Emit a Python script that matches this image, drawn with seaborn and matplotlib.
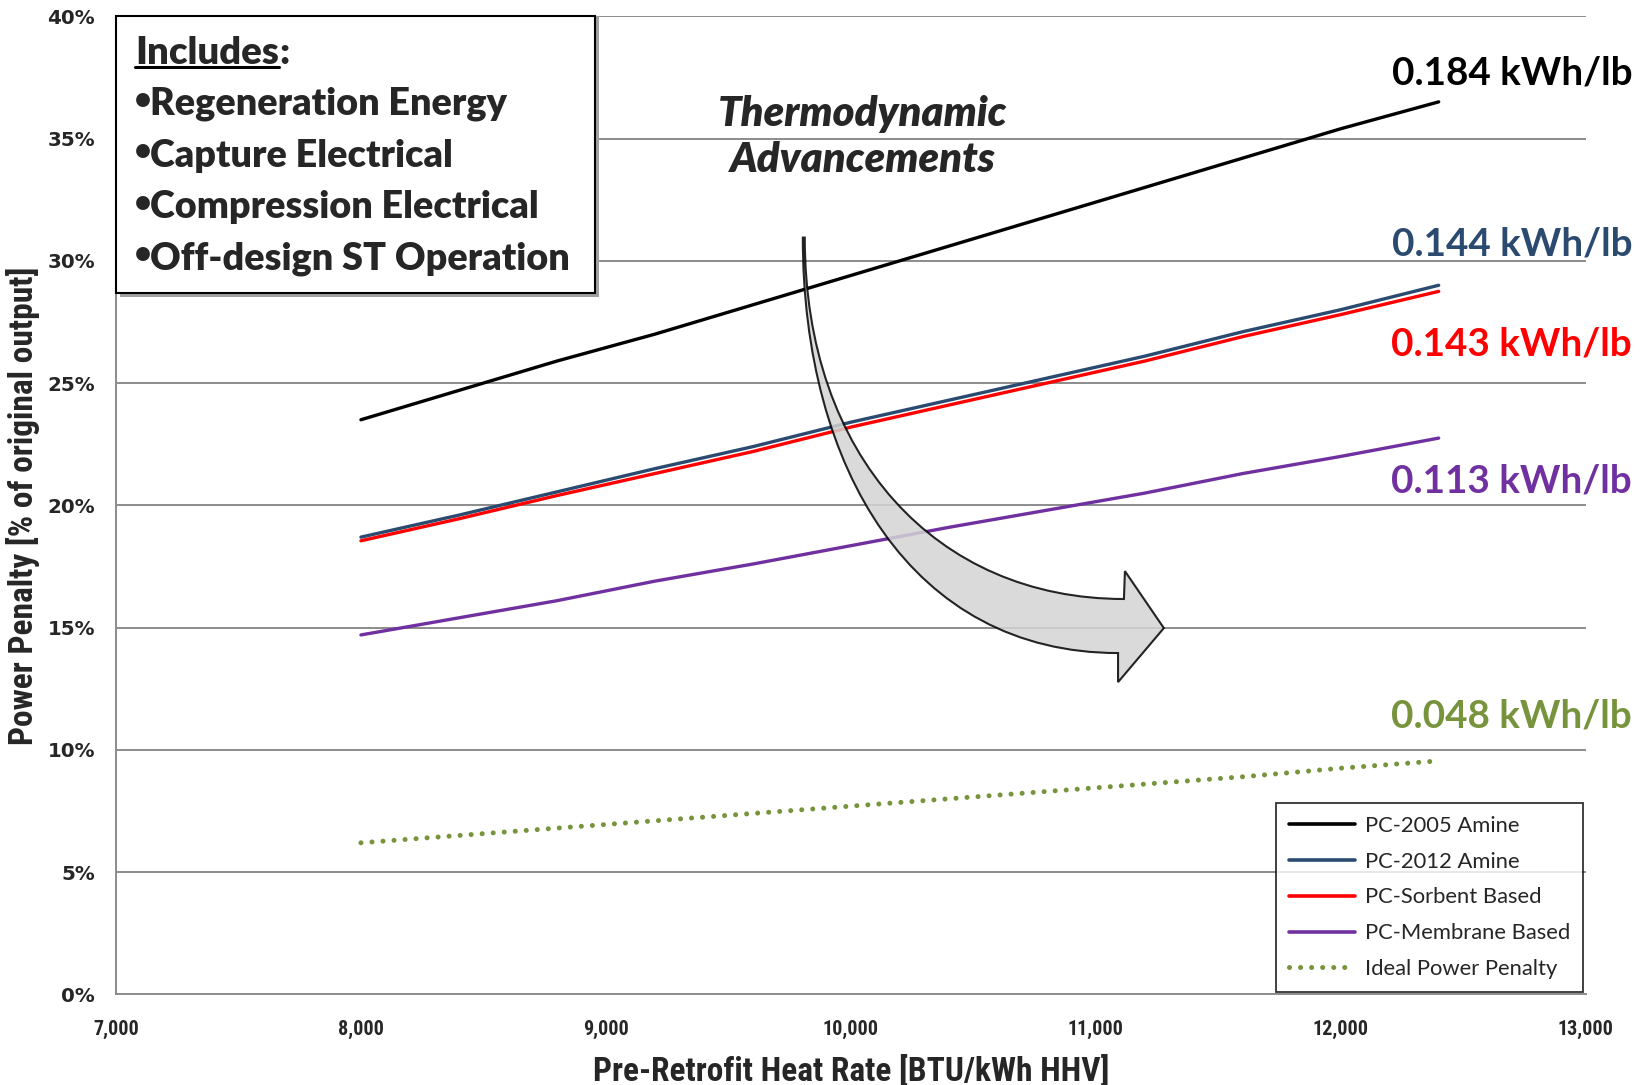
import pandas as pd
import matplotlib.pyplot as plt
import seaborn as sns
import numpy as np
from matplotlib import font_manager
from matplotlib.patches import Rectangle, PathPatch
from matplotlib.path import Path
from matplotlib.lines import Line2D

heat_rate = [8000, 8400, 8800, 9200, 9600, 10000, 10400, 10800, 11200, 11600, 12000, 12400]
pc2005 = [23.5, 24.7, 25.9, 27.0, 28.2, 29.4, 30.6, 31.8, 33.0, 34.2, 35.4, 36.5]
pc2012 = [18.7, 19.6, 20.55, 21.5, 22.4, 23.4, 24.3, 25.2, 26.1, 27.1, 28.0, 29.0]
sorbent = [18.55, 19.45, 20.4, 21.3, 22.2, 23.2, 24.1, 25.0, 25.9, 26.9, 27.8, 28.75]
membrane = [14.7, 15.4, 16.1, 16.9, 17.6, 18.35, 19.1, 19.8, 20.5, 21.3, 22.0, 22.75]
ideal = [6.2, 6.5, 6.8, 7.1, 7.4, 7.7, 8.0, 8.3, 8.6, 8.9, 9.25, 9.55]

series_names = ['PC-2005 Amine', 'PC-2012 Amine', 'PC-Sorbent Based', 'PC-Membrane Based', 'Ideal Power Penalty']
series_colors = ['#000000', '#2B4A6F', '#FF0000', '#7030A0', '#77933C']
end_labels = ['0.184 kWh/lb', '0.144 kWh/lb', '0.143 kWh/lb', '0.113 kWh/lb', '0.048 kWh/lb']
end_label_y = [37.7, 30.7, 26.6, 21.0, 11.4]
includes_items = ['Regeneration Energy', 'Capture Electrical', 'Compression Electrical', 'Off-design ST Operation']

available = {f.name for f in font_manager.fontManager.ttflist}
def pick(names):
    for n in names:
        if n in available:
            return n
    return 'DejaVu Sans'
main_font = pick(['Lato', 'Open Sans', 'DejaVu Sans'])
narrow_font = pick(['Liberation Sans Narrow', 'Roboto Condensed', 'Lato'])

sns.set_style('white')
plt.rcParams['font.family'] = [main_font, 'DejaVu Sans']
plt.rcParams['lines.dash_capstyle'] = 'round'

df = pd.DataFrame({'x': heat_rate * 5,
                   'y': pc2005 + pc2012 + sorbent + membrane + ideal,
                   'series': np.repeat(series_names, len(heat_rate))})

fig = plt.figure(figsize=(16.5, 10.85), dpi=100)
ax = fig.add_axes([0.0703, 0.0835, 0.8907, 0.9015])

sns.lineplot(data=df, x='x', y='y', hue='series', style='series', hue_order=series_names,
             style_order=series_names, palette=dict(zip(series_names, series_colors)),
             dashes={n: ('' if n != 'Ideal Power Penalty' else (0.01, 2.2)) for n in series_names},
             linewidth=2.4, ax=ax)
ax.lines[4].set_linewidth(3.6)

ax.set_xlim(7000, 13000)
ax.set_ylim(0, 40)
ax.set_xticks(range(7000, 13001, 1000))
ax.set_xticklabels([f'{v:,}' for v in range(7000, 13001, 1000)], fontsize=14.5, fontweight='bold', family=narrow_font)
ax.set_yticks(range(0, 41, 5))
ax.set_yticklabels([f'{v}%' for v in range(0, 41, 5)], fontsize=14.3, fontweight='bold', family='DejaVu Sans')
ax.tick_params(axis='y', length=0, pad=15)
ax.tick_params(axis='x', length=0, pad=18)
ax.grid(axis='y', color='#8C8C8C', linewidth=1.4)
ax.set_axisbelow(True)
for s in ['top', 'right']:
    ax.spines[s].set_visible(False)
for s in ['left', 'bottom']:
    ax.spines[s].set_color('#8C8C8C')
    ax.spines[s].set_linewidth(1.4)

ax.set_xlabel('Pre-Retrofit Heat Rate [BTU/kWh HHV]', fontsize=24, fontweight='bold', family=narrow_font)
ax.set_ylabel('Power Penalty [% of original output]', fontsize=24, fontweight='bold', family=narrow_font)
ax.xaxis.set_label_coords(0.5, -0.062)
ax.yaxis.set_label_coords(-0.052, 0.5)

# end labels
for lab, yv, c in zip(end_labels, end_label_y, series_colors):
    ax.text(13190, yv, lab, color=c, fontsize=27.8, fontweight='bold', ha='right', va='center', clip_on=False)

ax.text(10050, 35.05, 'Thermodynamic\nAdvancements', fontsize=30, fontweight='heavy', style='italic',
        ha='center', va='center', linespacing=1.26)

# curved block arrow
verts = [(9804, 30.95), (9804, 21.5), (10250, 13.96), (11091, 13.96),
         (11091, 12.77), (11278, 14.98), (11119, 17.31), (11115, 16.17),
         (10350, 16.17), (9812, 22.0), (9812, 30.95), (9804, 30.95)]
codes = [Path.MOVETO, Path.CURVE4, Path.CURVE4, Path.CURVE4,
         Path.LINETO, Path.LINETO, Path.LINETO, Path.LINETO,
         Path.CURVE4, Path.CURVE4, Path.CURVE4, Path.CLOSEPOLY]
ax.add_patch(PathPatch(Path(verts, codes), facecolor='#D4D4D4', alpha=0.85, edgecolor='black',
                       linewidth=1.5, zorder=5))

# legend
leg = ax.legend(loc='lower right', bbox_to_anchor=(1.0, 0.0), fontsize=15.8, frameon=True,
                fancybox=False, handlelength=3.0, handletextpad=0.45, labelspacing=0.72,
                borderpad=0.6, borderaxespad=0.1)
leg.get_frame().set_edgecolor('black')
leg.get_frame().set_linewidth(1.3)
for h in leg.get_lines():
    h.set_linewidth(2.6)
leg.get_lines()[-1].set_linewidth(3.6)

# includes box
fig.patches.append(Rectangle((0.0728, 0.7265), 0.2903, 0.2588, transform=fig.transFigure,
                             facecolor='#A0A0A0', edgecolor='none', zorder=9))
fig.patches.append(Rectangle((0.0703, 0.730), 0.2903, 0.2553, transform=fig.transFigure,
                             facecolor='white', edgecolor='black', linewidth=1.5, zorder=10))
t0 = fig.text(0.0818, 0.9515, 'Includes', fontsize=27.5, fontweight='heavy', va='center', zorder=11)
fig.canvas.draw()
bb = t0.get_window_extent().transformed(fig.transFigure.inverted())
fig.text(bb.x1, 0.9515, ':', fontsize=27.5, fontweight='heavy', va='center', zorder=11)
fig.add_artist(Line2D([bb.x0, bb.x1], [bb.y0 + 0.002, bb.y0 + 0.002], color='black', linewidth=2.2,
                      transform=fig.transFigure, zorder=11))
for i, item in enumerate(includes_items):
    yy = 0.904 - i * 0.0474
    fig.text(0.0815, yy + 0.004, '•', fontsize=20, fontweight='heavy', va='center', zorder=11)
    fig.text(0.0912, yy, item, fontsize=27.2, fontweight='heavy', va='center', zorder=11)

fig.savefig('out.png', dpi=100)
